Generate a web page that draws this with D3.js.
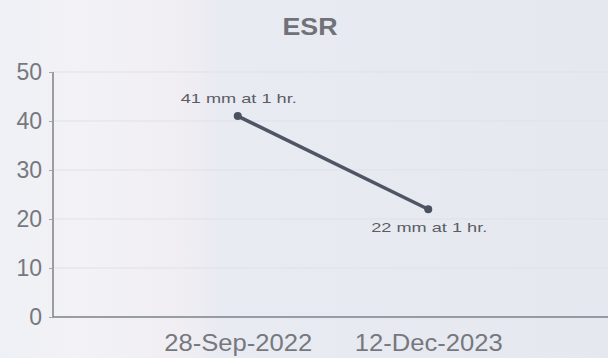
<!DOCTYPE html>
<html><head><meta charset="utf-8">
<script src="https://cdn.jsdelivr.net/npm/d3@7"></script>
<style>
html,body{margin:0;padding:0;background:#e9ebf1;}
svg{display:block;}
</style></head>
<body>
<svg id="c" width="608" height="358"></svg>
<script>
const title = "ESR";
const dates = ["28-Sep-2022", "12-Dec-2023"];
const values = [41, 22];
const labels = ["41 mm at 1 hr.", "22 mm at 1 hr."];
const yTicks = [0, 10, 20, 30, 40, 50];

const W = 608, H = 358;
const m = {left: 53, right: -5, top: 72, bottom: 41};
const FONT = "Liberation Sans, Arial, sans-serif";
const svg = d3.select("#c");

const defs = svg.append("defs");
const g1 = defs.append("linearGradient").attr("id","bg").attr("x1","0").attr("x2","1").attr("y1","0").attr("y2","0");
g1.append("stop").attr("offset","0").attr("stop-color","#eef0f5");
g1.append("stop").attr("offset","0.12").attr("stop-color","#f3f2f6");
g1.append("stop").attr("offset","0.3").attr("stop-color","#f0eef3");
g1.append("stop").attr("offset","0.36").attr("stop-color","#e9ebf2");
g1.append("stop").attr("offset","1").attr("stop-color","#e6e8ef");
svg.append("rect").attr("width",W).attr("height",H).attr("fill","url(#bg)");

const x = d3.scalePoint().domain(dates).range([m.left, W - m.right]).padding(0.97);
const y = d3.scaleLinear().domain([0, 50]).range([H - m.bottom, m.top]);

// gridlines
svg.append("g").selectAll("line").data(yTicks.filter(d=>d>0)).join("line")
  .attr("x1", m.left).attr("x2", W)
  .attr("y1", d=>y(d)).attr("y2", d=>y(d))
  .attr("stroke", "#dfe1e8").attr("stroke-width", 1);

// y axis
const ya = svg.append("g").attr("transform", `translate(${m.left},0)`)
  .call(d3.axisLeft(y).tickValues(yTicks).tickSize(4).tickPadding(7));
ya.select(".domain").attr("d", `M0,${y(50)}V${y(0)}`).attr("stroke","#7d8088").attr("stroke-width",1.5);
ya.selectAll(".tick line").attr("stroke","#a4a6ad");
ya.selectAll(".tick text").attr("fill","#76787e").style("font-family",FONT).style("font-size","23px");

// x axis
const xa = svg.append("g").attr("transform", `translate(0,${H - m.bottom})`)
  .call(d3.axisBottom(x).tickSize(0).tickPadding(18));
xa.select(".domain").attr("d", `M${m.left},0H${W}`).attr("stroke","#7d8088").attr("stroke-width",1.5);
xa.selectAll(".tick text").attr("fill","#76787e").style("font-family",FONT).style("font-size","23px")
  .attr("textLength", 148).attr("lengthAdjust","spacingAndGlyphs");

// title
svg.append("text").attr("x", 310).attr("y", 35).attr("text-anchor","middle")
  .attr("fill","#707278").style("font-family",FONT)
  .style("font-size","23px").style("font-weight","bold")
  .attr("textLength", 55).attr("lengthAdjust","spacingAndGlyphs").text(title);

const pts = dates.map((d,i)=>({d, v: values[i], l: labels[i]}));

svg.append("path").datum(pts)
  .attr("d", d3.line().x(p=>x(p.d)).y(p=>y(p.v)))
  .attr("fill","none").attr("stroke","#4e5564").attr("stroke-width",3.5);

svg.append("g").selectAll("circle").data(pts).join("circle")
  .attr("cx", p=>x(p.d)).attr("cy", p=>y(p.v)).attr("r", 4).attr("fill","#4a5160");

svg.append("g").selectAll("text").data(pts).join("text")
  .attr("x", p=>x(p.d) + 1).attr("y", (p,i)=> i===0 ? y(p.v)-13 : y(p.v)+23)
  .attr("text-anchor","middle").attr("fill","#5a5d64")
  .style("font-family",FONT).style("font-size","13px")
  .attr("textLength", 116).attr("lengthAdjust","spacingAndGlyphs")
  .text(p=>p.l);
</script>
</body></html>
